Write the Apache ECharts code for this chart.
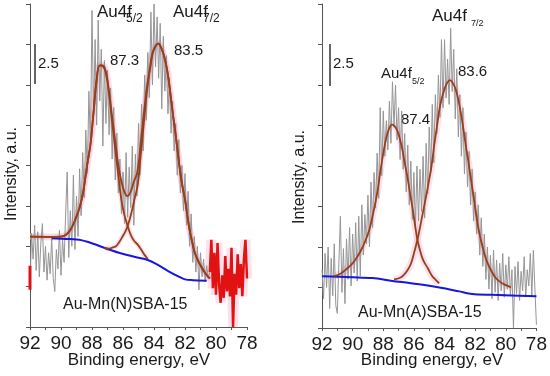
<!DOCTYPE html>
<html><head><meta charset="utf-8">
<script src="https://cdn.jsdelivr.net/npm/echarts@6/dist/echarts.min.js"></script>
<style>html,body{margin:0;padding:0;background:#fff}#c{width:550px;height:376px}</style>
</head><body><div id="c"></div>
<script>
// ---------- axis ticks ----------
const xTickLabels = [92, 90, 88, 86, 84, 82, 80, 78];

// ---------- LEFT panel: Au-Mn(N)SBA-15 ----------
// raw spectrum, 92.0 -> 80.4 eV, step 0.1 eV
const leftRawStart = 92.0;
const leftRaw = [
  2.4,5.8,4.2,6.3,3.5,5.9,3.1,5.2,6.4,3.4,
  5.0,2.9,4.6,3.3,5.5,3.0,2.2,4.8,3.6,6.0,
  3.2,5.4,4.0,7.0,9.6,4.3,7.2,5.0,9.4,4.8,
  8.1,5.6,9.8,6.9,10.8,8.0,12.2,9.5,14.6,11.2,
  19.6,13.0,17.8,12.5,19.0,14.0,17.2,11.2,16.5,12.6,
  15.9,11.9,14.8,10.4,13.6,9.1,12.0,8.3,10.4,7.0,
  9.6,6.4,10.8,6.8,9.9,7.4,11.2,6.3,10.7,8.1,
  12.6,9.4,13.8,10.9,15.6,12.8,17.0,14.2,19.5,15.0,
  20.0,16.1,19.2,15.4,18.8,13.5,18.0,14.6,16.8,13.2,
  15.4,12.0,14.0,10.9,12.6,9.4,11.6,8.3,10.0,7.2,
  9.5,6.3,8.4,5.0,7.0,4.0,5.6,3.4,5.0,2.3,
  4.6,3.1,4.2,2.8,3.8,3.0,3.4
];
// raw spectrum tail drawn in red, 80.4 -> 78.0 eV
const leftRedStart = 80.4;
const leftRed = [3.4,5.4,2.4,4.6,2.0,5.2,2.6,1.5,3.2,1.8,4.4,2.2,3.6,1.9,4.9,0.0,3.3,2.0,4.5,2.4,3.9,1.9,4.2,5.4,3.0];
const leftRedEdge = [[92.0,2.3],[92.0,3.8]];
const leftEnvelope = [[92.0,5.6],[91.5,5.6],[91.0,5.58],[90.5,5.58],[90.0,5.6],[89.7,5.7],[89.4,6.0],[89.1,6.6],[88.8,7.4],[88.6,8.2],[88.45,9.1],[88.3,10.1],[88.1,11.3],[87.9,13.3],[87.7,15.3],[87.5,16.2],[87.3,16.2],[87.1,15.8],[86.9,14.6],[86.7,13.0],[86.5,11.5],[86.3,10.0],[86.1,9.0],[85.9,8.35],[85.72,8.1],[85.5,8.4],[85.3,9.0],[85.07,9.6],[84.9,11.0],[84.75,12.4],[84.6,13.7],[84.42,15.1],[84.25,16.1],[84.1,16.95],[83.9,17.4],[83.72,17.55],[83.5,17.2],[83.33,16.7],[83.15,15.9],[83.0,14.9],[82.85,13.7],[82.67,12.4],[82.5,11.1],[82.35,9.9],[82.2,8.9],[82.0,7.9],[81.85,6.9],[81.7,6.0],[81.5,5.1],[81.37,4.6],[81.15,4.1],[80.93,3.7],[80.7,3.35],[80.5,3.1],[80.38,3.0]];
const leftPeak1 = [[92.0,5.6],[91.0,5.58],[90.0,5.6],[89.7,5.7],[89.4,6.0],[89.1,6.6],[88.8,7.4],[88.6,8.2],[88.45,9.1],[88.3,10.1],[88.1,11.3],[87.9,13.3],[87.7,15.3],[87.5,16.2],[87.3,16.15],[87.1,15.7],[86.9,14.4],[86.7,12.7],[86.5,11.0],[86.3,9.4],[86.14,8.1],[85.95,7.1],[85.7,6.25],[85.5,5.7],[85.3,5.35],[85.05,5.1],[84.8,4.75],[84.6,4.45],[84.4,4.2]];
const leftPeak2 = [[87.2,4.9],[86.9,4.85],[86.6,4.95],[86.45,5.0],[86.25,5.25],[86.03,5.6],[85.85,5.9],[85.7,6.25],[85.5,6.9],[85.27,7.86],[85.05,8.8],[84.9,10.2],[84.75,11.7],[84.6,13.2],[84.42,14.9],[84.25,16.0],[84.1,16.9],[83.9,17.4],[83.72,17.55],[83.5,17.2],[83.33,16.7],[83.15,15.9],[83.0,14.9],[82.85,13.7],[82.67,12.4],[82.5,11.1],[82.35,9.9],[82.2,8.9],[82.0,7.9],[81.85,6.9],[81.7,6.0],[81.5,5.1],[81.37,4.6],[81.15,4.1],[80.93,3.7],[80.7,3.35],[80.5,3.1],[80.38,3.0]];
const leftBackground = [[90.6,5.5],[89.5,5.45],[88.7,5.38],[88.2,5.25],[87.6,5.05],[86.9,4.8],[86.1,4.55],[85.2,4.33],[84.4,4.15],[83.75,3.85],[83.0,3.42],[82.4,3.12],[82.0,2.95],[81.5,2.9],[80.6,2.87]];

// ---------- RIGHT panel: Au-Mn(A)SBA-15 ----------
const rightRawStart = 92.0;
const rightRaw = [
  3.6,1.8,4.6,2.5,5.0,1.2,4.3,2.0,5.2,1.4,
  0.9,4.0,6.9,2.2,4.9,1.5,5.5,3.0,6.2,2.6,
  5.8,3.4,6.5,2.9,6.9,3.2,7.6,4.5,7.0,5.2,
  8.2,5.0,9.0,6.2,9.6,7.4,10.8,8.0,13.6,9.4,
  13.4,10.6,12.8,11.0,14.0,11.4,15.2,12.4,15.0,11.6,
  13.6,10.4,13.4,9.8,12.0,8.4,11.3,7.6,10.3,6.7,
  9.6,6.2,10.0,6.6,9.8,7.2,10.6,6.8,11.4,8.3,
  12.4,9.6,13.8,10.2,14.4,12.0,15.6,13.0,17.8,13.6,
  17.8,14.2,16.6,13.8,18.5,14.6,17.2,12.9,16.0,11.8,
  14.4,10.6,13.6,9.5,12.1,8.7,10.9,7.6,9.8,6.6,
  8.4,5.8,7.6,4.5,6.8,3.8,5.8,3.0,5.0,2.4,
  4.5,1.8,4.8,2.2,4.2,1.7,4.0,2.3,4.6,1.9,
  3.9,2.4,4.4,2.0,3.6,0.0,3.8,2.1,4.1,1.7,
  3.5,2.3,4.4,1.9,3.6,2.6,4.6,2.0,4.8,2.4,
  0.2
];
const rightPeak1 = [[91.2,3.2],[90.8,3.35],[90.45,3.6],[90.1,3.9],[89.8,4.25],[89.45,4.8],[89.14,5.45],[88.9,6.1],[88.7,6.9],[88.5,7.8],[88.35,8.6],[88.2,9.6],[88.05,10.5],[87.9,11.3],[87.73,12.0],[87.55,12.45],[87.42,12.55],[87.25,12.45],[87.07,12.15],[86.9,11.6],[86.75,11.0],[86.6,10.2],[86.42,9.3],[86.25,8.3],[86.09,7.4],[85.95,6.5],[85.77,5.45],[85.6,4.8],[85.4,4.2],[85.1,3.7],[84.8,3.2],[84.56,2.96],[84.35,2.75]];
const rightPeak2 = [[87.3,3.0],[86.9,3.1],[86.64,3.3],[86.4,3.6],[86.2,3.95],[86.0,4.6],[85.77,5.45],[85.6,6.2],[85.44,7.0],[85.25,7.9],[85.05,8.9],[84.85,10.0],[84.67,11.3],[84.5,12.4],[84.35,13.4],[84.2,14.1],[84.02,14.7],[83.85,15.1],[83.65,15.3],[83.45,15.1],[83.26,14.7],[83.1,14.1],[82.93,13.25],[82.77,12.3],[82.6,11.2],[82.43,10.2],[82.27,9.14],[82.1,8.1],[81.95,7.1],[81.8,6.2],[81.62,5.4],[81.4,4.6],[81.19,4.0],[80.9,3.45],[80.64,3.07],[80.3,2.8],[79.99,2.65],[79.66,2.5]];
const rightBackground = [[92.0,3.19],[90.0,3.13],[88.7,3.08],[87.4,2.9],[86.3,2.78],[85.2,2.64],[84.15,2.47],[83.05,2.26],[82.2,2.1],[80.9,2.05],[78.0,1.96]];

// ---------- build ----------
const FONT = 'Liberation Sans, Arial, sans-serif';
const TXT = '#1a1a1a';
const pairs = (start, vals) => vals.map((v, i) => [+(start - 0.1 * i).toFixed(1), v]);

function axes(idx) {
  return {
    x: {
      type: 'value', gridIndex: idx, min: 78, max: 92, interval: 2, inverse: true,
      axisLine: { show: true, lineStyle: { color: '#555', width: 1 } },
      axisTick: { show: true, inside: false, length: 3, lineStyle: { color: '#555' } },
      minorTick: { show: true, splitNumber: 2, length: 3, lineStyle: { color: '#555' } },
      splitLine: { show: false },
      axisLabel: { fontSize: 19, color: TXT, fontFamily: FONT, margin: 7,
        formatter: v => (xTickLabels.indexOf(v) >= 0 ? String(v) : '') }
    },
    y: {
      type: 'value', gridIndex: idx, min: 0, max: 20, interval: 2.5,
      axisLine: { show: true, lineStyle: { color: '#555', width: 1 } },
      axisTick: { show: true, inside: false, length: 4, lineStyle: { color: '#555' } },
      axisLabel: { show: false }, splitLine: { show: false }
    }
  };
}
const a0 = axes(0), a1 = axes(1);

function line(idx, data, color, width, opts) {
  return Object.assign({
    type: 'line', xAxisIndex: idx, yAxisIndex: idx, data: data,
    symbol: 'none', showSymbol: false, silent: true, animation: false,
    lineStyle: { color: color, width: width }
  }, opts || {});
}
const PINK = 'rgba(248,180,210,0.4)';
const BROWN = '#94401a';
const BLUE = '#1616e0';

const series = [
  // pink halo
  line(0, leftEnvelope, PINK, 7, { smooth: 0.4, z: 1 }),
  line(0, leftPeak1, PINK, 5, { smooth: 0.4, z: 1 }),
  line(0, leftPeak2, PINK, 5, { smooth: 0.4, z: 1 }),
  line(0, pairs(leftRedStart, leftRed), PINK, 10, { z: 1 }),
  line(1, rightPeak1, PINK, 7, { smooth: 0.4, z: 1 }),
  line(1, rightPeak2, PINK, 7, { smooth: 0.4, z: 1 }),
  // raw data
  line(0, pairs(leftRawStart, leftRaw), '#959595', 1, { z: 2 }),
  line(0, pairs(leftRedStart, leftRed), '#e01212', 2.5, { z: 3 }),
  line(0, leftRedEdge, '#e01212', 3, { z: 3 }),
  line(1, pairs(rightRawStart, rightRaw), '#959595', 1, { z: 2 }),
  // background
  line(0, leftBackground, BLUE, 2, { smooth: 0.3, z: 4 }),
  line(1, rightBackground, BLUE, 2, { smooth: 0.3, z: 4 }),
  // fitted components
  line(0, leftPeak1, BROWN, 1.8, { smooth: 0.4, z: 5 }),
  line(0, leftPeak2, BROWN, 1.8, { smooth: 0.4, z: 5 }),
  line(0, leftEnvelope, BROWN, 1.8, { smooth: 0.4, z: 5 }),
  line(1, rightPeak1, BROWN, 1.8, { smooth: 0.4, z: 5 }),
  line(1, rightPeak2, BROWN, 1.8, { smooth: 0.4, z: 5 })
];

function t(x, y, text, size, extra) {
  return Object.assign({
    type: 'text', x: x, y: y, silent: true,
    style: { text: text, fontSize: size, fontFamily: FONT, fill: TXT, align: 'left', verticalAlign: 'middle' }
  }, extra || {});
}
function tc(x, y, text, size, rot) {
  return {
    type: 'text', x: x, y: y, silent: true, rotation: rot || 0,
    style: { text: text, fontSize: size, fontFamily: FONT, fill: TXT, align: 'center', verticalAlign: 'middle' }
  };
}
const graphic = [
  // axis titles
  tc(12, 174, 'Intensity, a.u.', 16, Math.PI / 2),
  tc(300, 177, 'Intensity, a.u.', 16, Math.PI / 2),
  tc(139, 360, 'Binding energy, eV', 17),
  tc(432, 360, 'Binding energy, eV', 17),
  // scale bars
  { type: 'line', silent: true, shape: { x1: 35, y1: 44, x2: 35, y2: 84 }, style: { stroke: '#333', lineWidth: 1.5 } },
  { type: 'line', silent: true, shape: { x1: 330, y1: 44, x2: 330, y2: 86 }, style: { stroke: '#333', lineWidth: 1.5 } },
  t(38, 64, '2.5', 15),
  t(333, 64, '2.5', 15),
  // left labels
  t(97, 12, 'Au4f', 17),
  t(126, 19, '5/2', 12),
  t(110, 61, '87.3', 15),
  t(173, 12, 'Au4f', 17),
  t(203, 19, '7/2', 12),
  t(174, 51, '83.5', 15),
  t(63, 305, 'Au-Mn(N)SBA-15', 16),
  // right labels
  t(432, 16, 'Au4f', 17),
  t(471, 24, '7/2', 9),
  t(458, 72, '83.6', 15),
  t(381, 74, 'Au4f', 15),
  t(412, 82, '5/2', 9),
  t(401, 120, '87.4', 15),
  t(358, 313, 'Au-Mn(A)SBA-15', 16)
];

const chart = echarts.init(document.getElementById('c'), null, { renderer: 'canvas' });
chart.setOption({
  animation: false,
  backgroundColor: '#fff',
  grid: [
    { left: 30, top: 4, width: 217, height: 323 },
    { left: 322, top: 4, width: 215, height: 324 }
  ],
  xAxis: [a0.x, a1.x],
  yAxis: [a0.y, a1.y],
  series: series,
  graphic: graphic
});
</script>
</body></html>
